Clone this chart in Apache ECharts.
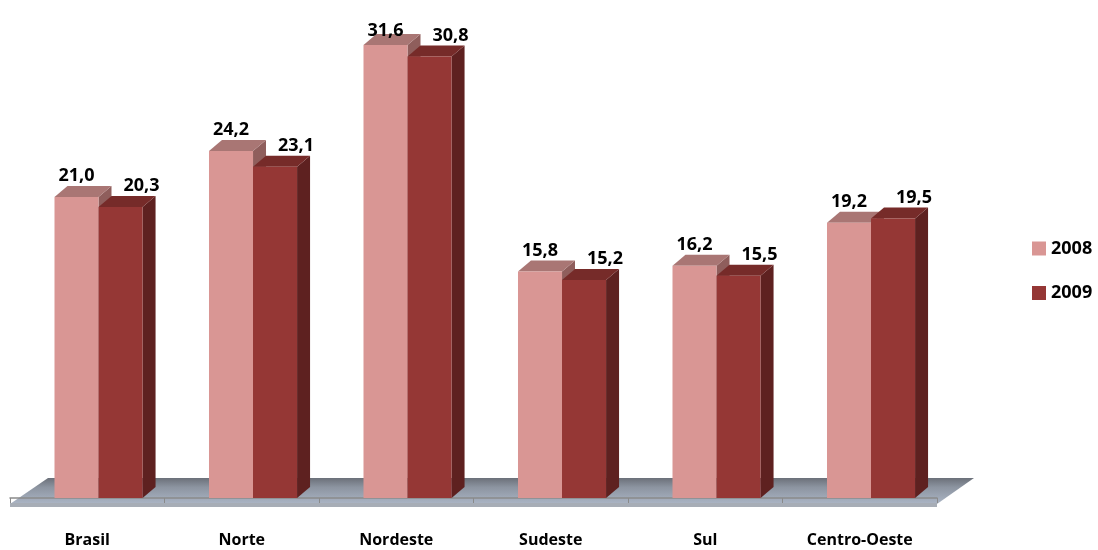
<!DOCTYPE html>
<html>
<head>
<meta charset="utf-8">
<title>2008 x 2009 por região</title>
<script src="https://cdn.jsdelivr.net/npm/echarts@6/dist/echarts.min.js"></script>
<style>
  html, body { margin: 0; padding: 0; background: #ffffff; }
  #chart { width: 1098px; height: 550px; }
</style>
</head>
<body>
<div id="chart"></div>
<script>
// Regions and yearly values
const categories = ['Brasil', 'Norte', 'Nordeste', 'Sudeste', 'Sul', 'Centro-Oeste'];
const values2008 = [21.0, 24.2, 31.6, 15.8, 16.2, 19.2];
const values2009 = [20.3, 23.1, 30.8, 15.2, 15.5, 19.5];
const years = ['2008', '2009'];

// Colours of each box face: front, top, side
const faces = [
  { front: '#D99694', top: '#A97674', side: '#8F5E5C' },
  { front: '#953735', top: '#762B29', side: '#5E2120' }
];

const FONT = '"Open Sans", "Liberation Sans", sans-serif';
const DEPTH_X = 13, DEPTH_Y = 11;

function fmt(v) { return v.toFixed(1).replace('.', ','); }

function makeRender(idx) {
  return function (params, api) {
    const cat = api.value(0);
    const v = api.value(1);
    const base = api.coord([cat, 0]);
    const top = api.coord([cat, v]);
    const bw = api.size([1, 0])[0];
    const w = bw * 0.285;
    const x0 = base[0] - bw * 0.212 + idx * w;
    const x1 = x0 + w;
    const yb = base[1];
    const yt = top[1];
    const c = faces[idx];
    // value labels sit above each box, kept inside the drawing area
    const labelY = Math.max(yt - 21, 31);
    const labelX = (x0 + x1) / 2 + (idx === 1 ? 21 : 0);
    return {
      type: 'group',
      children: [
        { type: 'polygon', shape: { points: [[x1, yb], [x1 + DEPTH_X, yb - DEPTH_Y], [x1 + DEPTH_X, yt - DEPTH_Y], [x1, yt]] }, style: { fill: c.side } },
        { type: 'polygon', shape: { points: [[x0, yt], [x0 + DEPTH_X, yt - DEPTH_Y], [x1 + DEPTH_X, yt - DEPTH_Y], [x1, yt]] }, style: { fill: c.top } },
        { type: 'rect', shape: { x: x0, y: yt, width: w, height: yb - yt }, style: { fill: c.front } },
        { type: 'text', x: labelX, y: labelY, style: { text: fmt(v), fill: '#000', font: 'bold 18px ' + FONT, align: 'center', verticalAlign: 'middle' } }
      ]
    };
  };
}

const chart = echarts.init(document.getElementById('chart'), null, { renderer: 'canvas' });

const option = {
  backgroundColor: '#ffffff',
  animation: false,
  grid: { left: 10, right: 161, top: 10.6, bottom: 52 },
  legend: {
    orient: 'vertical',
    left: 1027,
    top: 234.5,
    itemWidth: 14,
    itemHeight: 14,
    itemGap: 26.5,
    icon: 'rect',
    data: years,
    textStyle: { fontFamily: FONT, fontWeight: 'bold', fontSize: 18, color: '#000' }
  },
  // Floor of the 3D plot area
  graphic: [
    {
      type: 'polygon', z: 0,
      shape: { points: [[10, 504], [48, 478], [974, 478], [937, 504]] },
      style: {
        fill: new echarts.graphic.LinearGradient(0, 0, 0, 1, [
          { offset: 0, color: '#6B7079' },
          { offset: 0.35, color: '#8C94A0' },
          { offset: 1, color: '#ABB5C5' }
        ])
      }
    },
    {
      type: 'rect', z: 0,
      shape: { x: 10, y: 503, width: 927, height: 4 },
      style: { fill: '#A7ADB6' }
    }
  ],
  xAxis: {
    type: 'category',
    data: categories,
    offset: 10,
    axisLine: { show: true, lineStyle: { color: '#8A8A8A', width: 1.5 } },
    axisTick: { show: true, length: 5, lineStyle: { color: '#8A8A8A' } },
    axisLabel: { margin: 24, color: '#000', fontFamily: FONT, fontWeight: 'bold', fontSize: 16 }
  },
  yAxis: {
    type: 'value',
    min: 0,
    max: 34,
    show: false,
    splitLine: { show: false }
  },
  series: [
    {
      name: years[0], type: 'custom', z: 3,
      itemStyle: { color: faces[0].front },
      renderItem: makeRender(0),
      encode: { x: 0, y: 1 },
      data: categories.map((c, i) => [i, values2008[i]])
    },
    {
      name: years[1], type: 'custom', z: 4,
      itemStyle: { color: faces[1].front },
      renderItem: makeRender(1),
      encode: { x: 0, y: 1 },
      data: categories.map((c, i) => [i, values2009[i]])
    }
  ]
};

chart.setOption(option);
</script>
</body>
</html>
